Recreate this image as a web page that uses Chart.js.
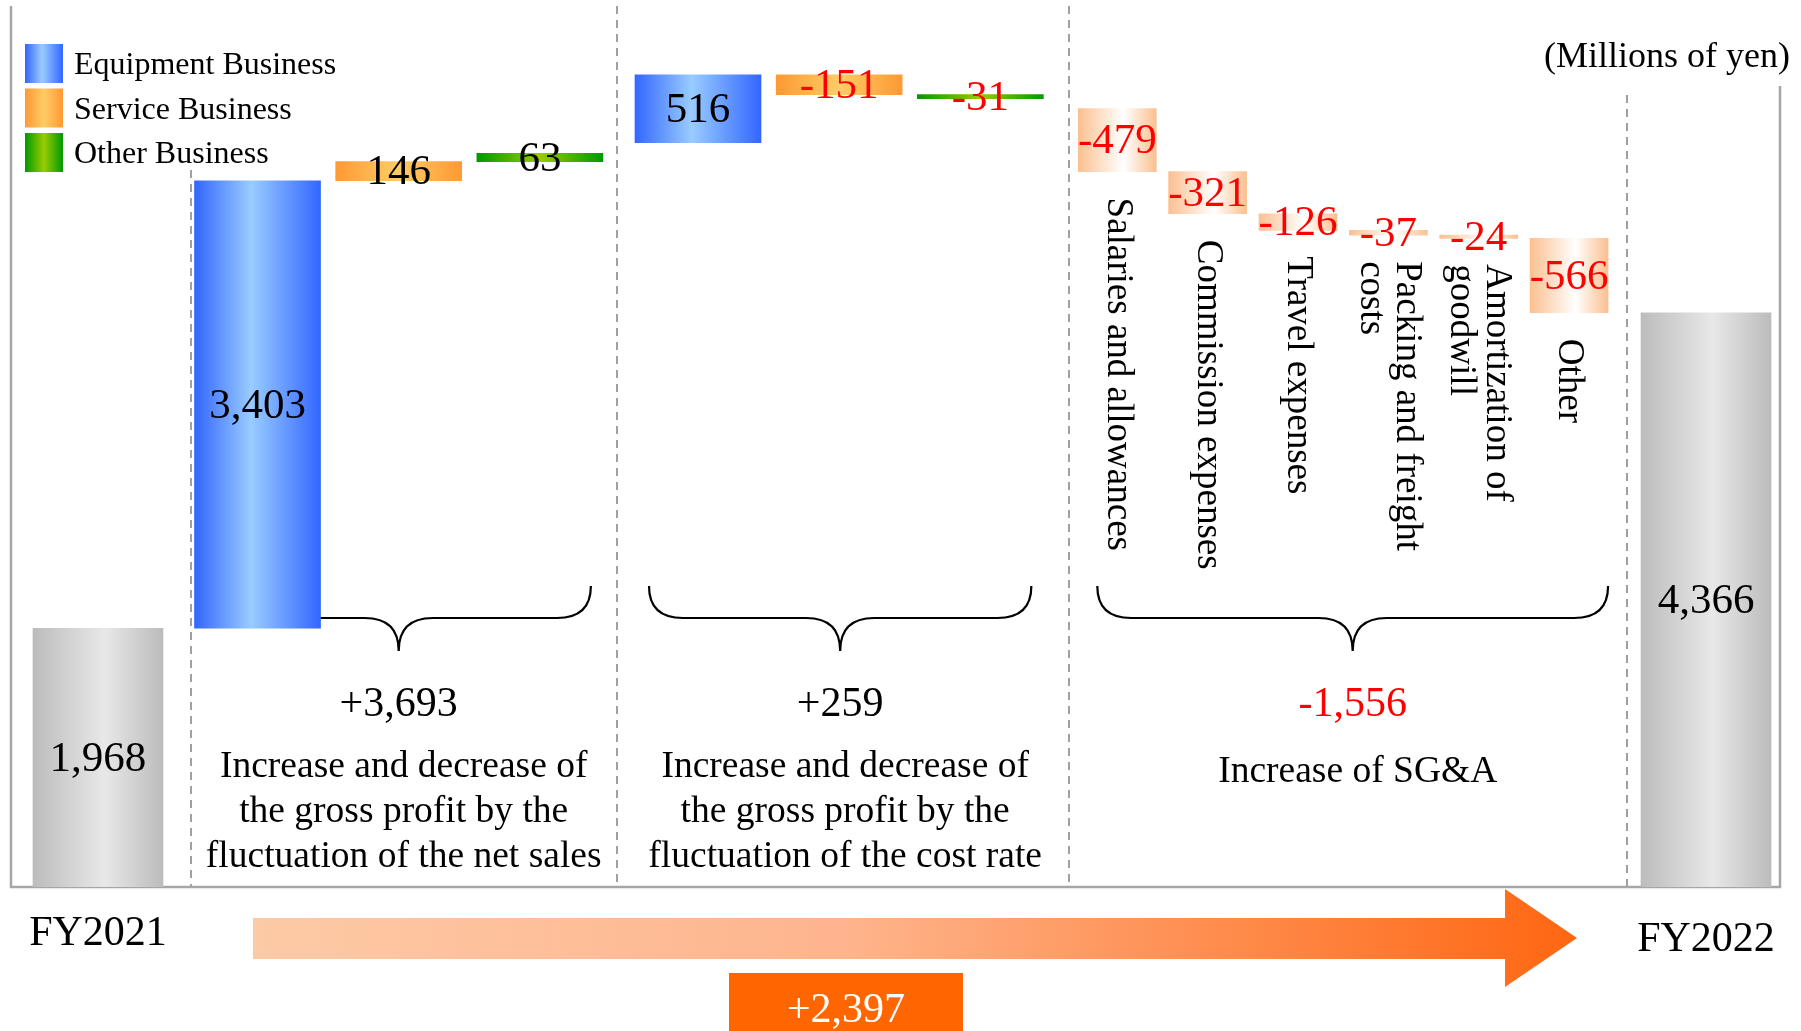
<!DOCTYPE html>
<html>
<head>
<meta charset="utf-8">
<script src="https://cdn.jsdelivr.net/npm/chart.js@4.4.1/dist/chart.umd.min.js"></script>
<style>
  html, body { margin: 0; padding: 0; background: #fff; }
  canvas { display: block; }
</style>
</head>
<body>
<canvas id="bridge" width="1801" height="1031"></canvas>
<script>
// Operating profit bridge FY2021 -> FY2022 (millions of yen)
const totalLabels = ['FY2021', 'FY2022'];
const totalValues = [1968, 4366];
const segmentNames = ['Equipment Business', 'Service Business', 'Other Business'];
const salesChange = [3403, 146, 63];
const costRateChange = [516, -151, -31];
const sgaNames = [
    ['Salaries and allowances'],
    ['Commission expenses'],
    ['Travel expenses'],
    ['Packing and freight', 'costs'],
    ['Amortization of', 'goodwill'],
    ['Other']
];
const sgaChange = [-479, -321, -126, -37, -24, -566];
const groupTotals = [3693, 259, -1556];
const groupNotes = [
    ['Increase and decrease of', 'the gross profit by the', 'fluctuation of the net sales'],
    ['Increase and decrease of', 'the gross profit by the', 'fluctuation of the cost rate'],
    ['Increase of SG&A']
];
const netChange = 2397;
const unitLabel = '(Millions of yen)';

// layout (slot steps on the x scale)
const gaps = [1.13, 1.12, 0.97, 0.97];
const stepMain = 1, stepSga = 0.64;
const braceInset = [[12, 12], [14, 12], [19, 0]];
const sepWeight = [0.9, 0.43, 0.72, 0.57];
const sepTop = [170, 6, 6, 95];
const SERIF = '"Liberation Serif", "Times New Roman", serif';
const RED = '#ff0000';

const gradients = {
    total: [[0, '#bcbcbc'], [0.55, '#e8e8e8'], [1, '#bcbcbc']],
    seg0: [[0, '#3366ff'], [0.45, '#99ccff'], [1, '#3366ff']],
    seg1: [[0, '#ff9933'], [0.5, '#ffcc66'], [1, '#ff9933']],
    seg2: [[0, '#009900'], [0.5, '#99cc00'], [1, '#009900']],
    sga: [[0, '#fbc090'], [0.58, '#ffffff'], [1, '#fbc090']]
};
const thickness = { total: 130, seg0: 126, seg1: 126, seg2: 126, sga: 78 };

// build the waterfall
const bars = { total: [], seg0: [], seg1: [], seg2: [], sga: [] };
const groups = [];
let x = 0;
let level = totalValues[0];
bars.total.push({ x: x, y: [0, level], v: level, name: totalLabels[0] });

function addGroup(values, step, kindOf, names) {
    const g = { first: null, last: null };
    values.forEach(function (v, i) {
        x += (i === 0) ? gaps[groups.length] : step;
        bars[kindOf(i)].push({ x: x, y: [level, level + v], v: v, name: names ? names[i] : null });
        level += v;
        if (g.first === null) g.first = x;
        g.last = x;
    });
    g.kind = kindOf(0);
    groups.push(g);
}
addGroup(salesChange, stepMain, i => 'seg' + i);
level = totalValues[0] + groupTotals[0];
addGroup(costRateChange, stepMain, i => 'seg' + i);
level = totalValues[0] + groupTotals[0] + groupTotals[1];
addGroup(sgaChange, stepSga, () => 'sga', sgaNames);
x += gaps[3];
bars.total.push({ x: x, y: [0, totalValues[1]], v: totalValues[1], name: totalLabels[1] });
const lastX = x;

function fmt(v, sign) {
    const s = Math.abs(v).toLocaleString('en-US');
    if (v < 0) return '-' + s;
    return (sign ? '+' : '') + s;
}

function barFill(kind) {
    return function (c) {
        const xs = c.chart.scales.x;
        if (!xs || !c.raw) return gradients[kind][1][1];
        const cx = xs.getPixelForValue(c.raw.x);
        if (!isFinite(cx)) return gradients[kind][1][1];
        const w = thickness[kind] / 2;
        const g = c.chart.ctx.createLinearGradient(cx - w, 0, cx + w, 0);
        gradients[kind].forEach(s => g.addColorStop(s[0], s[1]));
        return g;
    };
}

function drawBrace(ctx, x0, x1, top, flat, tip) {
    const cx = (x0 + x1) / 2, r = 34;
    ctx.beginPath();
    ctx.moveTo(x0, top);
    ctx.quadraticCurveTo(x0, flat, x0 + r, flat);
    ctx.lineTo(cx - r, flat);
    ctx.quadraticCurveTo(cx, flat, cx, tip);
    ctx.quadraticCurveTo(cx, flat, cx + r, flat);
    ctx.lineTo(x1 - r, flat);
    ctx.quadraticCurveTo(x1, flat, x1, top);
    ctx.stroke();
}

const annotations = {
    id: 'annotations',
    beforeDatasetsDraw(chart) {
        const ctx = chart.ctx, a = chart.chartArea, xs = chart.scales.x;
        ctx.save();
        // separators between groups
        const edges = [
            [bars.total[0].x, groups[0].first, 'total', 'seg0'],
            [groups[0].last, groups[1].first, 'seg0', 'seg0'],
            [groups[1].last, groups[2].first, 'seg0', 'sga'],
            [groups[2].last, lastX, 'sga', 'total']
        ];
        ctx.strokeStyle = '#a0a0a0';
        ctx.lineWidth = 2;
        ctx.setLineDash([8, 6]);
        edges.forEach(function (e, i) {
            const l = xs.getPixelForValue(e[0]) + thickness[e[2]] / 2;
            const r = xs.getPixelForValue(e[1]) - thickness[e[3]] / 2;
            const px = Math.round(l + (r - l) * sepWeight[i]);
            ctx.beginPath();
            ctx.moveTo(px, sepTop[i]);
            ctx.lineTo(px, a.bottom);
            ctx.stroke();
        });
        ctx.setLineDash([]);
        // frame
        ctx.strokeStyle = '#a6a6a6';
        ctx.lineWidth = 2.5;
        ctx.beginPath();
        ctx.moveTo(a.left, a.top);
        ctx.lineTo(a.left, a.bottom);
        ctx.lineTo(a.right, a.bottom);
        ctx.lineTo(a.right, 86);
        ctx.stroke();

        // braces sit behind the bars
        ctx.strokeStyle = '#000';
        ctx.lineWidth = 2.2;
        groups.forEach(function (g, i) {
            const w = thickness[g.kind] / 2;
            g.x0 = xs.getPixelForValue(g.first) - w + braceInset[i][0];
            g.x1 = xs.getPixelForValue(g.last) + w - braceInset[i][1];
            drawBrace(ctx, g.x0, g.x1, 586, 618, 651);
        });
        ctx.restore();
    },
    afterDatasetsDraw(chart) {
        const ctx = chart.ctx, xs = chart.scales.x;
        ctx.save();
        ctx.textAlign = 'center';
        ctx.textBaseline = 'middle';

        // values on the bars, rotated SG&A names
        chart.data.datasets.forEach(function (ds, di) {
            const meta = chart.getDatasetMeta(di);
            meta.data.forEach(function (el, j) {
                const d = ds.data[j];
                const mid = (el.y + el.base) / 2;
                ctx.font = '43px ' + SERIF;
                ctx.fillStyle = d.v < 0 ? RED : '#000';
                ctx.fillText(fmt(d.v), el.x, mid + 2);
                if (ds.kind === 'sga' && d.name) {
                    const bottom = Math.max(el.y, el.base) + 26;
                    ctx.save();
                    ctx.translate(el.x, bottom);
                    ctx.rotate(Math.PI / 2);
                    ctx.font = '37px ' + SERIF;
                    ctx.fillStyle = '#000';
                    ctx.textAlign = 'left';
                    const n = d.name.length;
                    d.name.forEach(function (line, k) {
                        ctx.fillText(line, 0, (k - (n - 1) / 2) * 36);
                    });
                    ctx.restore();
                }
            });
        });

        // group totals and notes
        groups.forEach(function (g, i) {
            const cx = (g.x0 + g.x1) / 2;
            ctx.font = '42px ' + SERIF;
            ctx.fillStyle = groupTotals[i] < 0 ? RED : '#000';
            ctx.fillText(fmt(groupTotals[i], true), cx, 705);
            ctx.font = '37.5px ' + SERIF;
            ctx.fillStyle = '#000';
            const startY = groupNotes[i].length === 1 ? 772 : 767;
            groupNotes[i].forEach(function (line, k) {
                ctx.fillText(line, cx + 5, startY + k * 45);
            });
        });

        // period labels under the axis
        ctx.font = '42px ' + SERIF;
        ctx.fillText(totalLabels[0], xs.getPixelForValue(bars.total[0].x), 934);
        ctx.fillText(totalLabels[1], xs.getPixelForValue(lastX), 940);

        // big arrow
        const ax0 = 253, ax1 = 1505, tipX = 1577, ay = 938;
        const ag = ctx.createLinearGradient(ax0, 0, tipX, 0);
        ag.addColorStop(0, '#fdcaa6');
        ag.addColorStop(0.45, '#feb48c');
        ag.addColorStop(1, '#ff6611');
        ctx.fillStyle = ag;
        ctx.beginPath();
        ctx.moveTo(ax0, ay - 20);
        ctx.lineTo(ax1, ay - 20);
        ctx.lineTo(ax1, ay - 49);
        ctx.lineTo(tipX, ay);
        ctx.lineTo(ax1, ay + 49);
        ctx.lineTo(ax1, ay + 21);
        ctx.lineTo(ax0, ay + 21);
        ctx.closePath();
        ctx.fill();

        // net change box
        ctx.fillStyle = '#ff6600';
        ctx.fillRect(729, 973, 234, 62);
        ctx.fillStyle = '#fff';
        ctx.font = '42px ' + SERIF;
        ctx.fillText(fmt(netChange, true), 846, 1011);

        // legend
        ['seg0', 'seg1', 'seg2'].forEach(function (k, i) {
            const y0 = 44 + i * 44.5;
            const lg = ctx.createLinearGradient(25, 0, 63, 0);
            gradients[k].forEach(s => lg.addColorStop(s[0], s[1]));
            ctx.fillStyle = lg;
            ctx.fillRect(25, y0, 38, 39);
            ctx.fillStyle = '#000';
            ctx.font = '32px ' + SERIF;
            ctx.textAlign = 'left';
            ctx.fillText(segmentNames[i], 74, y0 + 22);
        });

        // unit
        ctx.textAlign = 'right';
        ctx.font = '36px ' + SERIF;
        ctx.fillText(unitLabel, 1790, 58);
        ctx.restore();
    }
};

const kinds = ['total', 'seg0', 'seg1', 'seg2', 'sga'];
const datasets = kinds.map(function (k) {
    return {
        label: k,
        kind: k,
        data: bars[k],
        backgroundColor: barFill(k),
        borderWidth: 0,
        barThickness: thickness[k],
        grouped: false
    };
});

const pxPerSlot = 141.2;
new Chart(document.getElementById('bridge').getContext('2d'), {
    type: 'bar',
    data: { datasets: datasets },
    options: {
        responsive: false,
        animation: false,
        devicePixelRatio: 1,
        layout: { padding: { left: 11, right: 21, top: 6, bottom: 144 } },
        plugins: { legend: { display: false }, tooltip: { enabled: false } },
        scales: {
            x: {
                type: 'linear', display: false, offset: false,
                min: -87 / pxPerSlot, max: lastX + 74 / pxPerSlot
            },
            y: { display: false, min: 0, max: 6700 }
        }
    },
    plugins: [annotations]
});
</script>
</body>
</html>
